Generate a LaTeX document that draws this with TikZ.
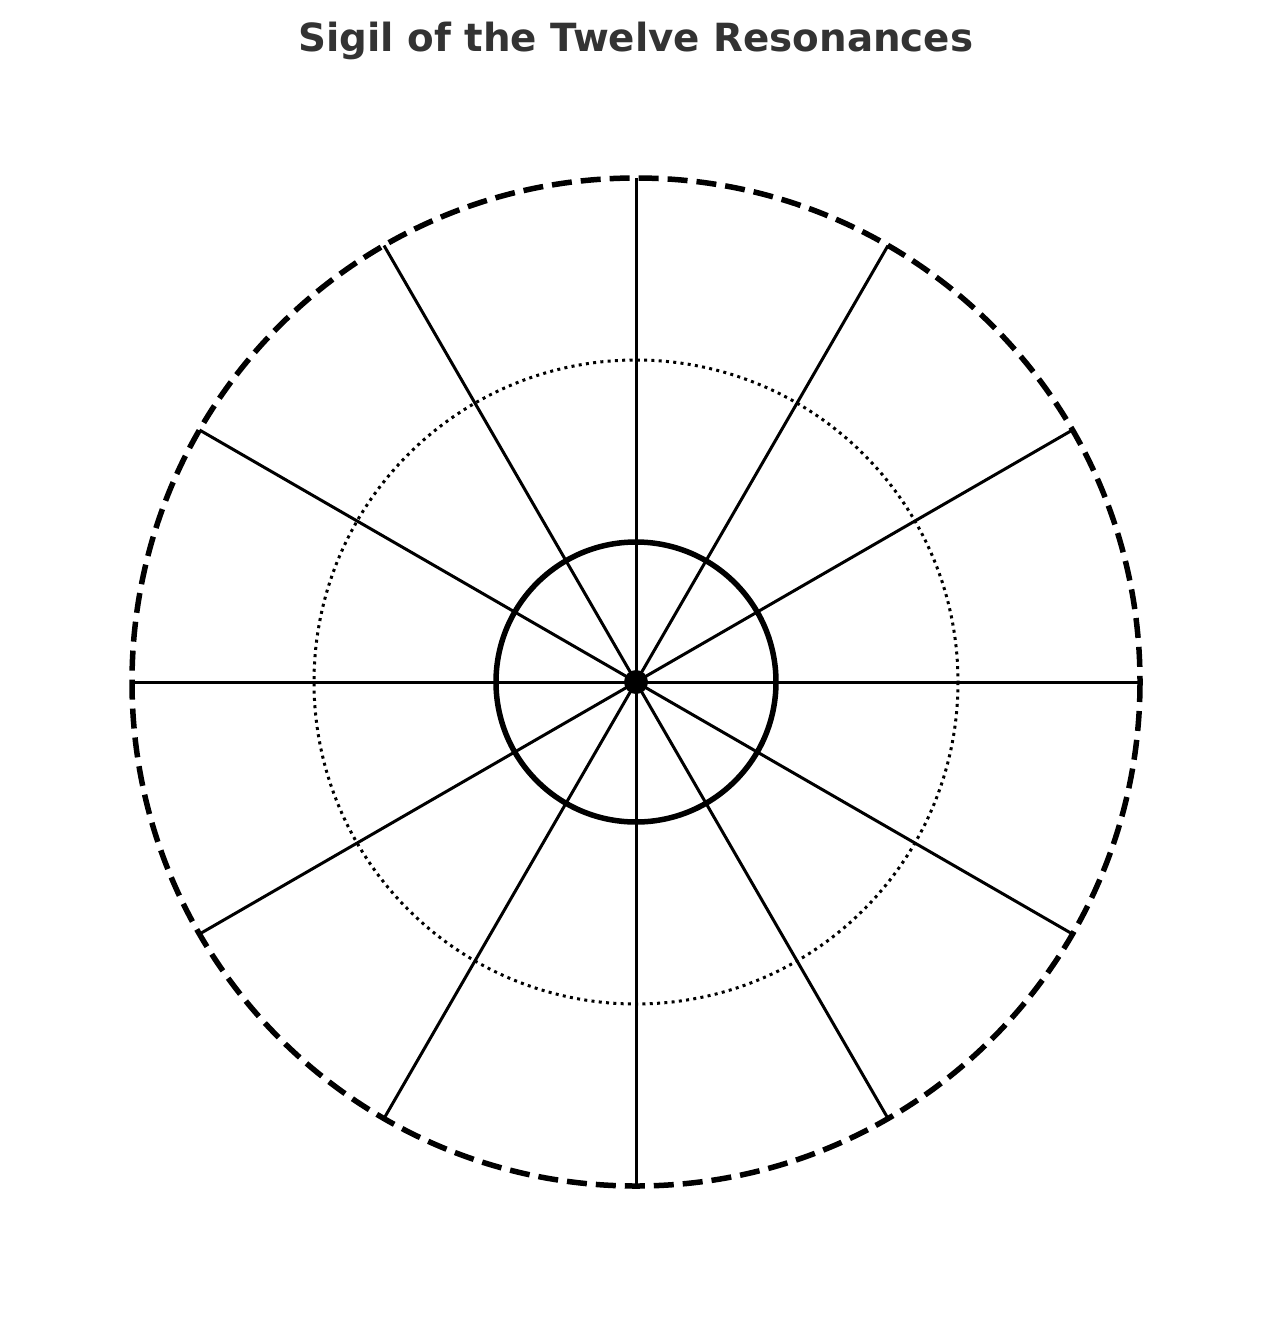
\documentclass[tikz,border=0pt]{standalone}
\usepackage{fontspec}
\setmainfont{DejaVu Sans}
\definecolor{titlegray}{HTML}{333333}
\begin{document}
\begin{tikzpicture}[x=1pt,y=-1pt,
  spoke/.style={line width=3pt},
  outerring/.style={line width=5.5pt, dash pattern=on 20pt off 9pt},
  midring/.style={line width=3pt, dash pattern=on 3pt off 4.3pt},
  innerring/.style={line width=5.5pt},
  titletext/.style={font=\bfseries\fontsize{38.8}{46}\selectfont, text=titlegray}]
\useasboundingbox (0,0) rectangle (1272,1318);
\coordinate (c) at (636,682);
\foreach \a in {0,30,...,330} {
  \draw[spoke] (c) -- ++(\a:504);
}
\draw[outerring] (c) circle[radius=504];
\draw[midring] (c) circle[radius=322];
\draw[innerring] (c) circle[radius=140];
\fill (c) circle[radius=12];
\node[titletext] (title) at (636,41) {Sigil of the Twelve Resonances};
\end{tikzpicture}
\end{document}
